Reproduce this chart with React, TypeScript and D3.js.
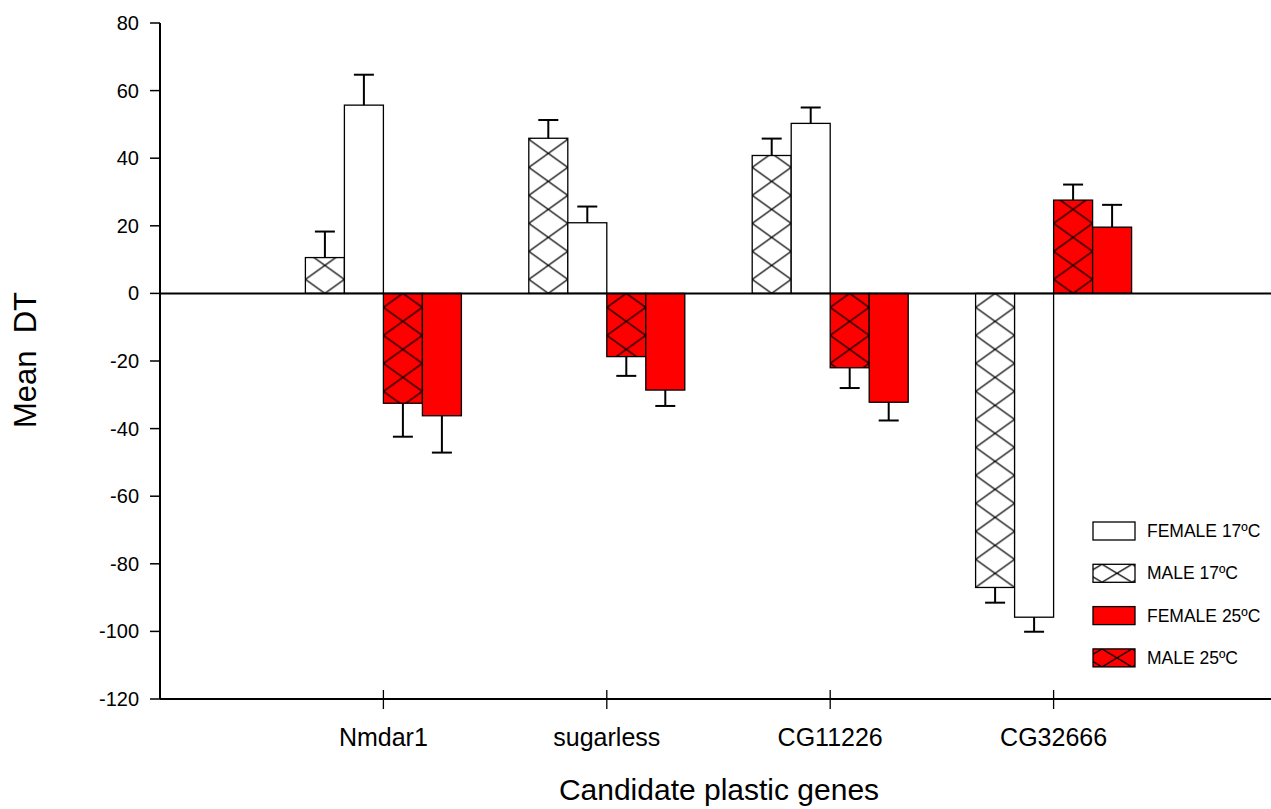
import React from 'react';
import * as d3 from 'd3';

const W = 1271, H = 809;

const genes = ['Nmdar1', 'sugarless', 'CG11226', 'CG32666'];
const seriesOrder = ['MALE 17ºC', 'FEMALE 17ºC', 'MALE 25ºC', 'FEMALE 25ºC'];
const legendOrder = ['FEMALE 17ºC', 'MALE 17ºC', 'FEMALE 25ºC', 'MALE 25ºC'];

// mean DT per gene
const male17 = [10.6, 45.9, 40.8, -87.0];
const female17 = [55.7, 20.9, 50.3, -95.8];
const male25 = [-32.5, -18.7, -22.0, 27.6];
const female25 = [-36.2, -28.6, -32.2, 19.6];

// standard errors
const male17Err = [7.7, 5.4, 5.0, 4.5];
const female17Err = [9.0, 4.8, 4.7, 4.3];
const male25Err = [9.9, 5.7, 6.0, 4.6];
const female25Err = [10.9, 4.7, 5.4, 6.6];

const yTicks = [80, 60, 40, 20, 0, -20, -40, -60, -80, -100, -120];

const seriesInfo: Record<string, { values: number[]; err: number[]; fill: string; hatch: boolean }> = {
  'MALE 17ºC': { values: male17, err: male17Err, fill: '#ffffff', hatch: true },
  'FEMALE 17ºC': { values: female17, err: female17Err, fill: '#ffffff', hatch: false },
  'MALE 25ºC': { values: male25, err: male25Err, fill: '#ff0000', hatch: true },
  'FEMALE 25ºC': { values: female25, err: female25Err, fill: '#ff0000', hatch: false },
};

const FONT = '"Liberation Sans", Arial, Helvetica, sans-serif';

export default function App() {
  const left = 160, top = 23, bottom = 699;
  const y = d3.scaleLinear().domain([-120, 80]).range([bottom, top]);
  const x = d3.scaleLinear().domain([0, 5]).range([left, 1277]);
  const barW = 39;
  const sub = d3.scaleBand<string>().domain(seriesOrder).range([-2 * barW, 2 * barW]).padding(0);
  const y0 = y(0);
  const hw = 39, hh = 28;

  const bars: any[] = [];
  genes.forEach((g, gi) => {
    seriesOrder.forEach((s) => {
      const info = seriesInfo[s];
      const v = info.values[gi];
      const e = info.err[gi];
      const bx = x(gi + 1) + (sub(s) as number);
      bars.push({ id: `p${gi}_${s.replace(/\W/g, '')}`, g, s, v, e, bx, info });
    });
  });

  const legendX = 1093, legendY = 522, legendStep = 42.3;

  return (
    <svg width={W} height={H} style={{ position: 'absolute', left: 0, top: 0, fontFamily: FONT }}>
      <defs>
        {bars.filter((b) => b.info.hatch).map((b) => (
          <pattern key={b.id} id={b.id} patternUnits="userSpaceOnUse" x={b.bx} y={y0 - hh / 2} width={hw} height={hh}>
            <rect width={hw} height={hh} fill={b.info.fill} />
            <path d={`M0,0L${hw},${hh}M0,${hh}L${hw},0`} stroke="#000" strokeWidth={1.3} />
          </pattern>
        ))}
        {legendOrder.map((s, i) => {
          const info = seriesInfo[s];
          if (!info.hatch) return null;
          const cy = legendY + i * legendStep;
          return (
            <pattern key={s} id={`leg${i}`} patternUnits="userSpaceOnUse" x={legendX + 24 - 15} y={cy} width={30} height={18}>
              <rect width={30} height={18} fill={info.fill} />
              <path d="M0,0L30,18M0,18L30,0" stroke="#000" strokeWidth={1.3} />
            </pattern>
          );
        })}
      </defs>

      {/* bars */}
      {bars.map((b) => (
        <rect
          key={b.id}
          x={b.bx}
          y={Math.min(y(b.v), y0)}
          width={barW}
          height={Math.abs(y(b.v) - y0)}
          fill={b.info.hatch ? `url(#${b.id})` : b.info.fill}
          stroke="#000"
          strokeWidth={1.3}
        />
      ))}

      {/* error bars */}
      {bars.map((b) => {
        const cx = b.bx + barW / 2;
        const end = b.v >= 0 ? b.v + b.e : b.v - b.e;
        return (
          <g key={`e${b.id}`} stroke="#000" strokeWidth={2}>
            <line x1={cx} x2={cx} y1={y(b.v)} y2={y(end)} />
            <line x1={cx - 10} x2={cx + 10} y1={y(end)} y2={y(end)} />
          </g>
        );
      })}

      {/* zero line */}
      <line x1={left} x2={W} y1={y0} y2={y0} stroke="#000" strokeWidth={2} />

      {/* y axis */}
      <line x1={left} x2={left} y1={top} y2={bottom} stroke="#000" strokeWidth={2} />
      {yTicks.map((t) => (
        <g key={t}>
          <line x1={left - 10} x2={left} y1={y(t)} y2={y(t)} stroke="#000" strokeWidth={1.5} />
          <text x={left - 21} y={y(t)} dy="0.35em" textAnchor="end" fontSize={20}>{t}</text>
        </g>
      ))}

      {/* x axis */}
      <line x1={left} x2={W} y1={bottom} y2={bottom} stroke="#000" strokeWidth={2} />
      {genes.map((g, gi) => (
        <g key={g}>
          <line x1={x(gi + 1)} x2={x(gi + 1)} y1={bottom - 9} y2={bottom + 10} stroke="#000" strokeWidth={1.3} />
          <text x={x(gi + 1)} y={746} textAnchor="middle" fontSize={25}>{g}</text>
        </g>
      ))}

      {/* axis titles */}
      <text x={719} y={800} textAnchor="middle" fontSize={30}>Candidate plastic genes</text>
      <text transform="translate(36,360) rotate(-90)" textAnchor="middle" fontSize={31} style={{ whiteSpace: 'pre' }}>
        {'Mean  DT'}
      </text>

      {/* legend */}
      {legendOrder.map((s, i) => {
        const info = seriesInfo[s];
        const cy = legendY + i * legendStep;
        return (
          <g key={s}>
            <rect x={legendX} y={cy} width={42} height={18} fill={info.hatch ? `url(#leg${i})` : info.fill} stroke="#000" strokeWidth={1.3} />
            <text x={1147} y={cy + 9} dy="0.35em" fontSize={17.5}>{s}</text>
          </g>
        );
      })}
    </svg>
  );
}
